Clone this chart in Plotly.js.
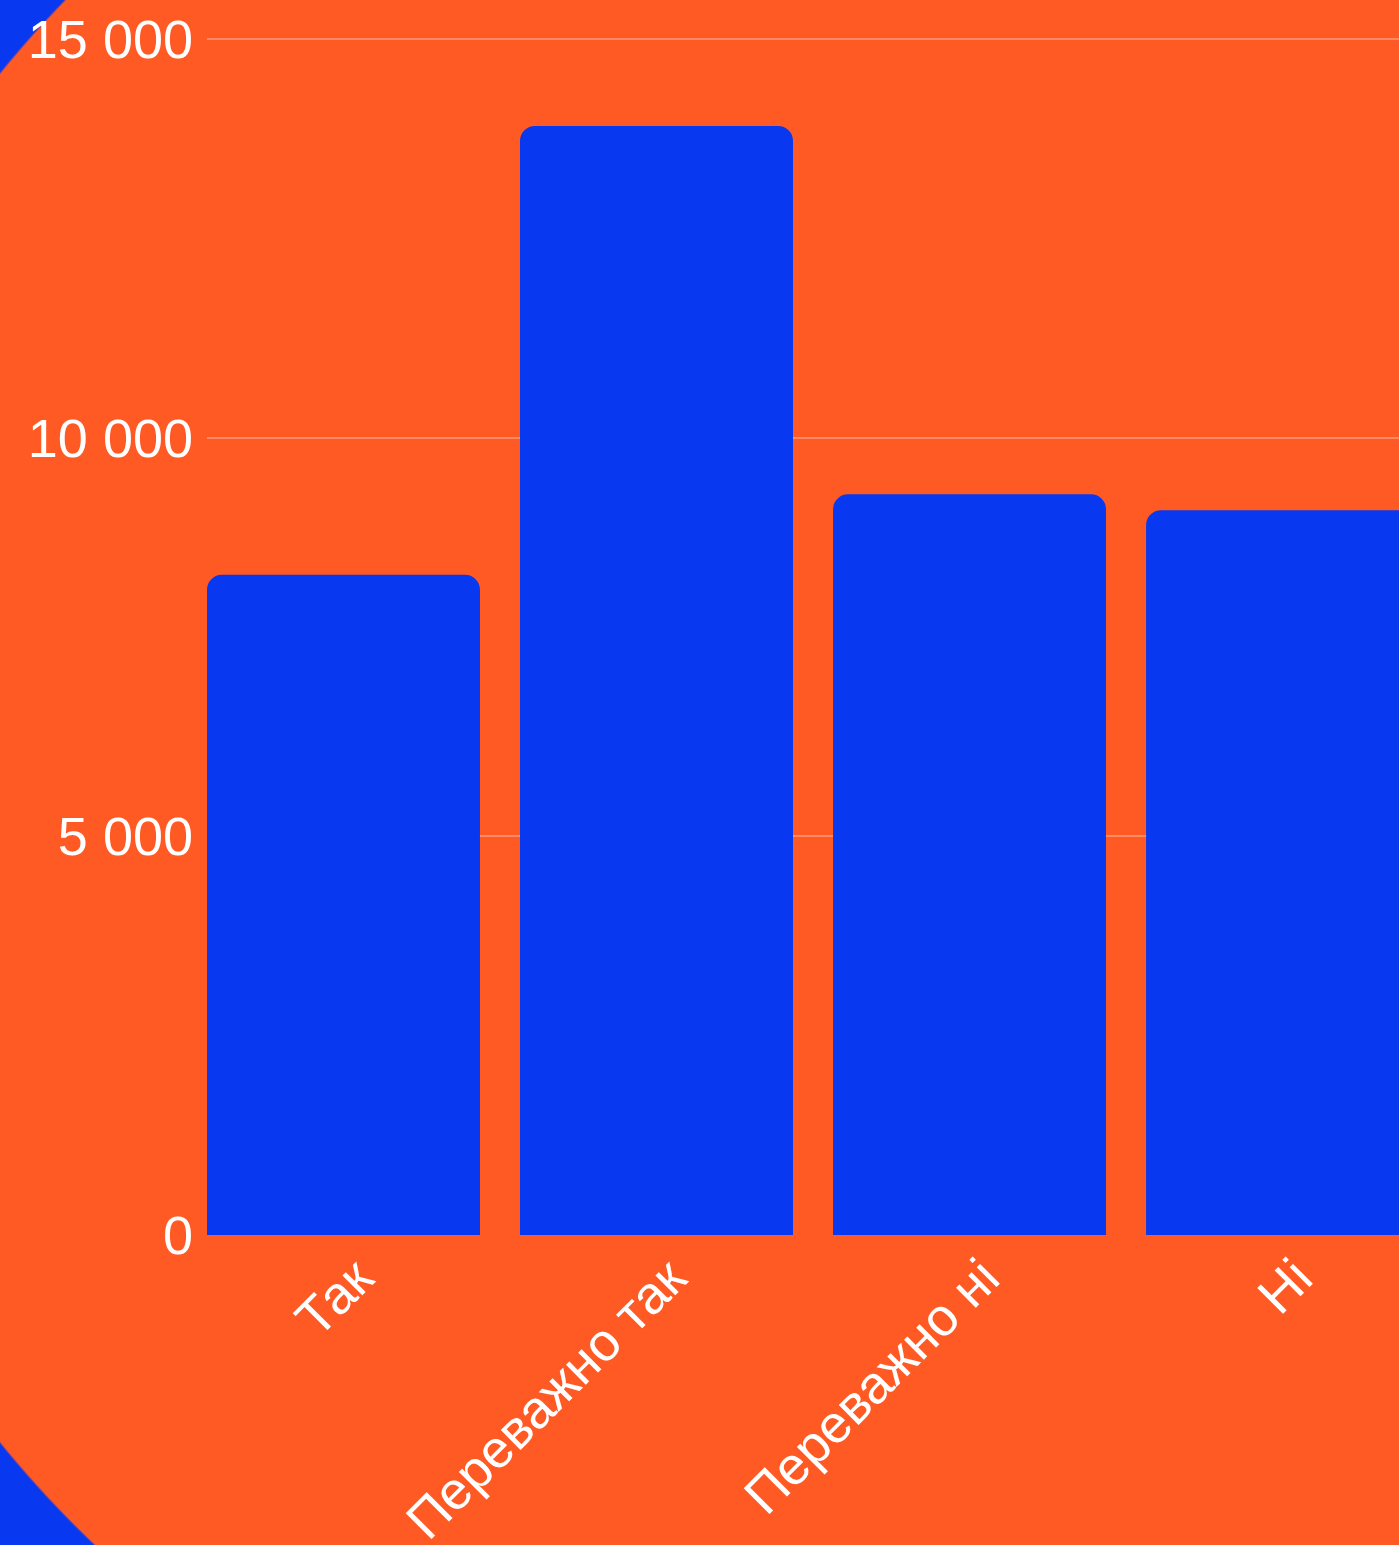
<!DOCTYPE html>
<html>
<head>
<meta charset="utf-8">
<script src="https://cdn.plot.ly/plotly-3.0.1.min.js"></script>
<style>
  html, body { margin: 0; padding: 0; overflow: hidden; }
  body {
    width: 1399px; height: 1545px;
    background: radial-gradient(circle 1087px at 843px 758px, #FF5A24 99.8%, #0838F0 100%);
  }
  #chart { width: 1399px; height: 1545px; }
</style>
</head>
<body>
<div id="chart"></div>
<script>
const categories = ["Так", "Переважно так", "Переважно ні", "Ні"];
const values = [8280, 13910, 9290, 9090];
const yTickVals = [0, 5000, 10000, 15000];
const yTickText = ["0", "5 000", "10 000", "15 000"];

const trace = {
  type: "bar",
  x: categories,
  y: values,
  marker: { color: "#0838F0", cornerradius: 15 },
  hoverinfo: "none"
};

const layout = {
  width: 1399,
  height: 1545,
  paper_bgcolor: "rgba(0,0,0,0)",
  plot_bgcolor: "rgba(0,0,0,0)",
  margin: { l: 207, r: 0, t: 30, b: 310, pad: 0 },
  bargap: 0.128,
  showlegend: false,
  font: { family: "Liberation Sans, Arial, sans-serif", color: "#FFFFFF", size: 52 },
  xaxis: {
    type: "category",
    range: [-0.436, 3.372],
    tickangle: -45,
    showgrid: false,
    zeroline: false,
    showline: false,
    ticks: "",
    ticklabelshift: 14,
    tickfont: { size: 53, color: "#FFFFFF" }
  },
  yaxis: {
    range: [0, 15113],
    tickvals: yTickVals,
    ticktext: yTickText,
    showgrid: true,
    gridcolor: "#FF8A66",
    gridwidth: 2,
    zeroline: false,
    showline: false,
    ticks: "",
    ticklabelstandoff: 13,
    tickfont: { size: 54, color: "#FFFFFF" }
  }
};

Plotly.newPlot("chart", [trace], layout, { displayModeBar: false, staticPlot: true });
</script>
</body>
</html>
